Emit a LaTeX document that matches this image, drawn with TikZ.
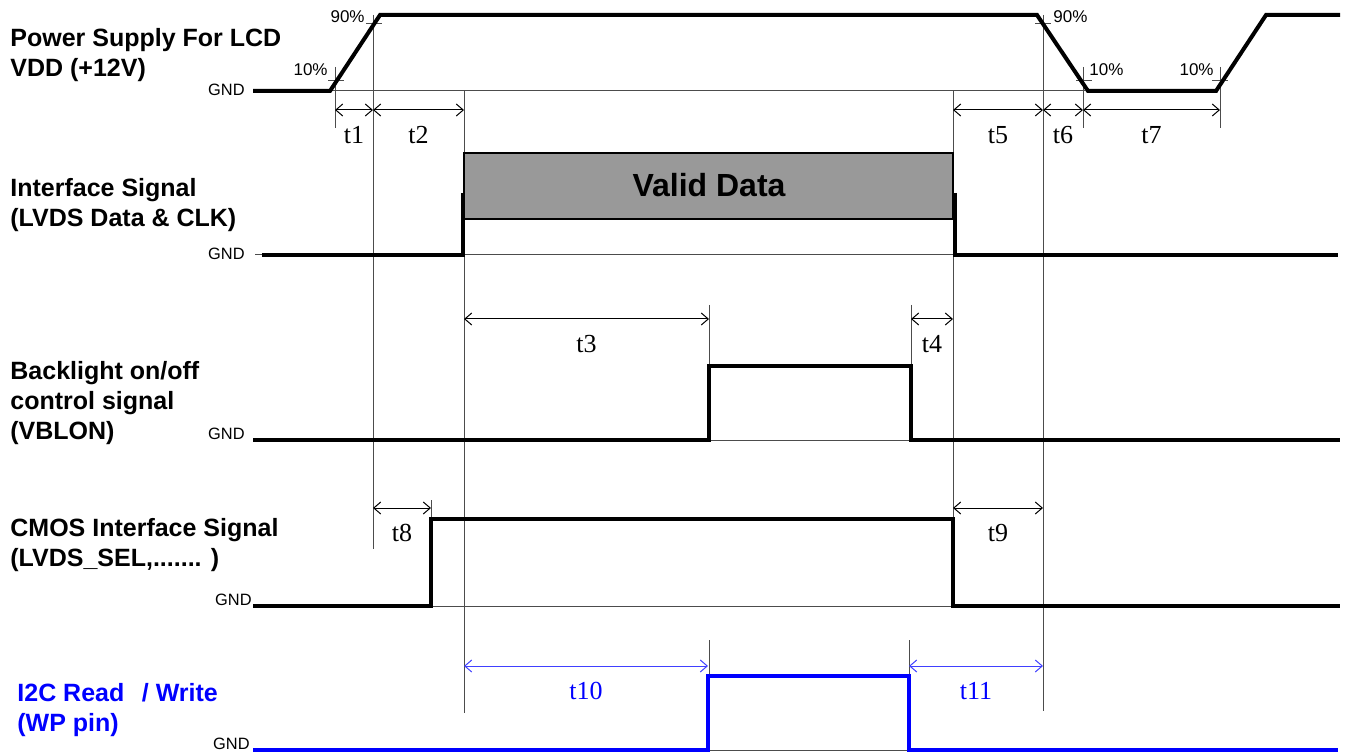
\documentclass[tikz,border=0pt]{standalone}
\usepackage{fontspec}
\setmainfont{Liberation Serif}
\setsansfont{Liberation Sans}
\usetikzlibrary{arrows.meta}

\begin{document}
\begin{tikzpicture}[x=0.5pt,y=-0.5pt,
  sig/.style={line width=2pt},
  guide/.style={line width=0.5pt,black!70},
  dim/.style={{Straight Barb[length=3.5pt,width=6pt]}-{Straight Barb[length=3.5pt,width=6pt]},line width=0.5pt},
  lbl/.style={font=\sffamily\bfseries\fontsize{12.5}{15}\selectfont,align=left,anchor=west,inner sep=0pt},
  gnd/.style={font=\sffamily\fontsize{8.2}{9}\selectfont,anchor=east,inner sep=0pt},
  pct/.style={font=\sffamily\fontsize{8.5}{9}\selectfont,inner sep=0pt},
  tlab/.style={font=\fontsize{13}{15}\selectfont,inner sep=0pt}]
\useasboundingbox (0,0) rectangle (1348,753);

% signal names
\node[lbl] (vdd) at (10,55) {Power Supply For LCD\\VDD (+12V)};
\node[lbl] (lvds) at (10,205) {Interface Signal\\(LVDS Data \& CLK)};
\node[lbl] (vblon) at (10,403) {Backlight on/off\\control signal\\(VBLON)};
\node[lbl] (cmos) at (10,545) {CMOS Interface Signal\\(LVDS\_SEL,....... )};
\node[lbl,blue] (wp) at (17,710) {I2C Read\hspace{0.7em}/ Write\\(WP pin)};

\node[gnd] (g1) at (245,90) {GND};
\node[gnd] (g2) at (245,254) {GND};
\node[gnd] (g3) at (245,434) {GND};
\node[gnd] (g4) at (252,600) {GND};
\node[gnd] (g5) at (250,744) {GND};

% guide lines
\draw[guide] (330,91)--(1085,91);
\draw[guide] (255,255)--(262,255);
\draw[guide] (463,255)--(955,255);
\draw[guide] (709,440)--(911,440);
\draw[guide] (431,606)--(953,606);
\draw[guide] (708,750)--(909,750);
\foreach \x/\a/\b in {335/67/128,373/15/549,464/91/713,953/91/606,1043/15/711,
  1083/67/128,1220/67/128,709/305/440,911/305/440,431/500/519,709/640/700,909/640/715}
  {\draw[guide] (\x,\a)--(\x,\b);}
\foreach \x/\y in {336/81,374/24,1043/24,1084/81,1220/81}
  {\draw[guide] (\x-8,\y)--(\x+8,\y);}

% percent marks
\node[pct,anchor=east] (p90a) at (365,17) {90\%};
\node[pct,anchor=east] (p10a) at (328,70) {10\%};
\node[pct,anchor=west] (p90b) at (1053,17) {90\%};
\node[pct,anchor=west] (p10b) at (1089,70) {10\%};
\node[pct,anchor=east] (p10c) at (1214,70) {10\%};

% signals
\draw[sig] (253,91)--(330,91)--(380,15)--(1037,15)--(1088,91)--(1216,91)--(1266,15)--(1340,15);
\draw[sig] (262,255)--(463,255)--(463,193);
\draw[sig] (955,193)--(955,255)--(1338,255);
\draw[fill=black!40,line width=0.7pt] (464,153) rectangle (953,219);
\node[font=\sffamily\bfseries\fontsize{16}{18}\selectfont] (valid) at (709,185) {Valid Data};
\draw[sig] (253,440)--(709,440)--(709,366)--(911,366)--(911,440)--(1340,440);
\draw[sig] (253,606)--(431,606)--(431,519)--(953,519)--(953,606)--(1340,606);
\draw[sig,blue] (253,750)--(708,750)--(708,676)--(909,676)--(909,750)--(1338,750);

% timings
\foreach \a/\b/\y/\t in {335/373/110/t1,373/464/110/t2,953/1043/110/t5,1043/1083/110/t6,
  1083/1220/110/t7,464/709/319/t3,911/953/319/t4,373/431/508/t8,953/1043/508/t9}
  {\draw[dim] (\a,\y)--(\b,\y) node[tlab,midway,below=8pt] {\t};}
\foreach \a/\b/\t in {464/708/t10,909/1043/t11}
  {\draw[dim,blue!75] (\a,666)--(\b,666) node[tlab,midway,below=8pt,blue] {\t};}
\end{tikzpicture}
\end{document}
